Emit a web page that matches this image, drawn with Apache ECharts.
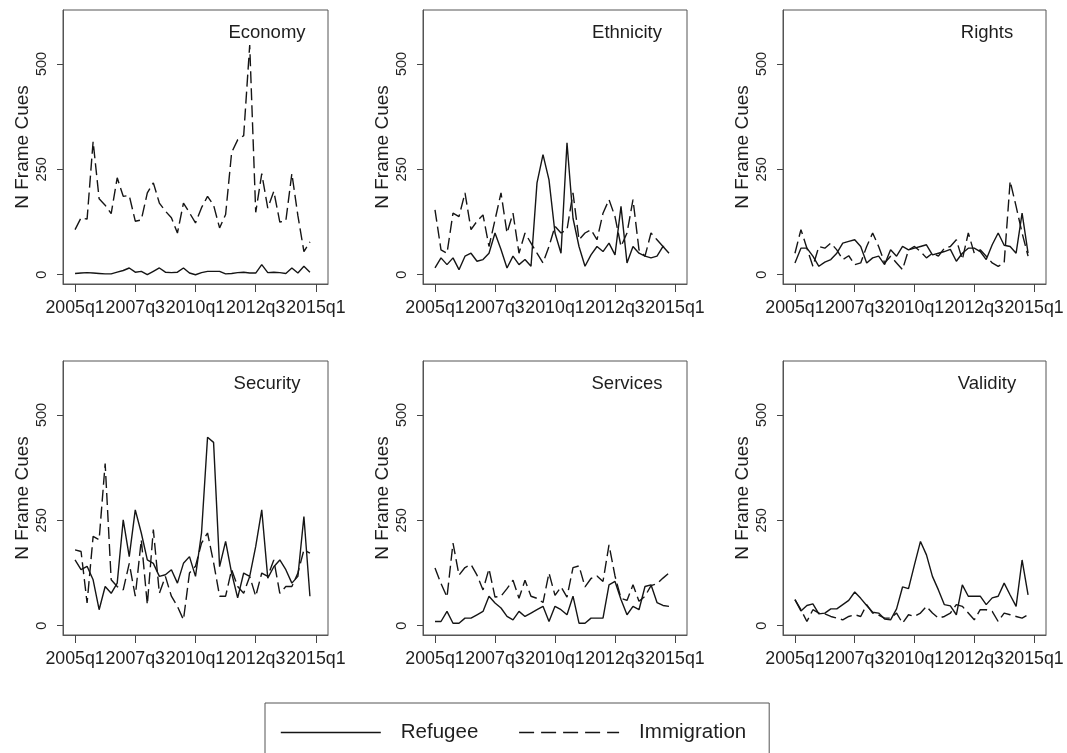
<!DOCTYPE html>
<html>
<head>
<meta charset="utf-8">
<script src="https://cdn.jsdelivr.net/npm/echarts@6/dist/echarts.min.js"></script>
<style>
  html, body { margin: 0; padding: 0; background: #fff; }
  #chart { width: 1067px; height: 753px; }
</style>
</head>
<body>
<div id="chart"></div>
<script>
// Quarterly frame-cue counts, 2005q1 .. 2014q4
const quarters = [
  '2005q1','2005q2','2005q3','2005q4','2006q1','2006q2','2006q3','2006q4',
  '2007q1','2007q2','2007q3','2007q4','2008q1','2008q2','2008q3','2008q4',
  '2009q1','2009q2','2009q3','2009q4','2010q1','2010q2','2010q3','2010q4',
  '2011q1','2011q2','2011q3','2011q4','2012q1','2012q2','2012q3','2012q4',
  '2013q1','2013q2','2013q3','2013q4','2014q1','2014q2','2014q3','2014q4'
];
const tickLabels = ['2005q1', '2007q3', '2010q1', '2012q3', '2015q1'];
const tickQuarterIndex = [0, 10, 20, 30, 40];
const yTicks = [0, 250, 500];
const frames = ['Economy', 'Ethnicity', 'Rights', 'Security', 'Services', 'Validity'];
const seriesNames = ['Refugee', 'Immigration'];

const economyRefugee = [3,4,5,4,3,2,2,6,10,16,6,8,0,8,16,6,5,6,16,4,0,5,8,8,8,2,3,5,6,4,4,24,5,6,5,3,16,4,20,6];
const economyImmigration = [107,135,132,316,180,165,145,230,186,188,127,130,194,218,170,151,135,99,170,147,123,159,186,165,111,143,290,320,330,545,148,240,158,198,125,128,240,140,55,78];

const ethnicityRefugee = [16,40,24,40,12,44,51,32,36,51,99,60,16,44,24,36,20,218,285,225,99,51,313,134,67,20,47,67,55,75,47,162,28,67,51,44,40,44,67,51];
const ethnicityImmigration = [154,59,51,146,138,194,107,127,142,67,130,194,99,146,51,99,75,51,28,67,115,99,107,194,83,99,107,83,146,178,138,67,99,178,59,44,99,83,67,67];

const rightsRefugee = [28,63,63,44,20,30,36,51,75,79,83,67,28,40,44,24,59,44,67,59,63,67,71,47,51,55,60,32,51,63,63,55,36,71,99,70,67,51,146,51];
const rightsImmigration = [51,107,63,20,67,63,75,59,36,45,24,28,67,99,67,28,44,28,12,59,67,55,40,51,44,63,67,83,36,99,51,59,44,28,20,28,222,162,99,44];

const securityRefugee = [156,133,141,109,38,93,77,101,251,164,275,220,156,148,117,121,133,101,148,164,117,220,447,435,140,200,125,66,125,117,188,275,113,140,156,133,101,117,259,70];
const securityImmigration = [180,176,54,212,204,385,109,93,85,148,70,204,50,228,77,117,70,46,14,125,141,196,220,150,70,70,133,93,77,117,70,125,117,156,77,93,93,125,180,172];

const servicesRefugee = [10,10,34,6,6,18,18,26,34,70,54,42,22,14,34,22,30,38,46,10,46,38,26,70,6,6,18,18,18,97,105,62,26,46,38,93,97,55,48,46];
const servicesImmigration = [137,100,68,196,120,138,145,120,85,135,68,70,88,108,65,108,70,65,55,125,72,92,68,138,142,92,112,118,105,192,118,65,60,97,58,70,95,100,113,125];

const validityRefugee = [62,35,48,52,28,30,40,40,50,60,80,65,48,32,30,16,14,40,92,88,145,200,168,117,85,50,47,26,97,70,70,70,50,66,70,101,73,46,156,73];
const validityImmigration = [62,38,10,38,30,28,22,18,14,22,26,22,50,30,25,18,18,30,6,26,22,30,46,30,18,22,30,50,46,30,14,38,38,34,10,30,26,22,18,26];

const refugeeByFrame = [economyRefugee, ethnicityRefugee, rightsRefugee, securityRefugee, servicesRefugee, validityRefugee];
const immigrationByFrame = [economyImmigration, ethnicityImmigration, rightsImmigration, securityImmigration, servicesImmigration, validityImmigration];

// Panel geometry (2 rows x 3 columns)
const panelLefts = [63, 423, 783];
const panelWidths = [265, 264, 263];
const panelTops = [10, 361];
const panelHeight = 274;

const ink = '#151515';
const textColor = '#1e1e1e';
const font = '"Liberation Sans", Arial, Helvetica, sans-serif';
const dashPattern = [12, 5];

const grids = [], xAxes = [], yAxes = [], series = [], graphics = [];

frames.forEach((frame, k) => {
  const col = k % 3, row = Math.floor(k / 3);
  const left = panelLefts[col], top = panelTops[row], width = panelWidths[col];
  grids.push({
    left: left, top: top, width: width, height: panelHeight,
    show: true, borderColor: '#555', borderWidth: 1, backgroundColor: '#fff'
  });
  xAxes.push({
    gridIndex: k, type: 'value', min: -2, max: 42,
    splitLine: { show: false },
    axisLine: { show: true, onZero: false, lineStyle: { color: '#555', width: 1 } },
    axisTick: { show: true, customValues: tickQuarterIndex, length: 8, lineStyle: { color: '#444' } },
    axisLabel: {
      customValues: tickQuarterIndex,
      showMinLabel: true, showMaxLabel: true, hideOverlap: false,
      formatter: v => tickLabels[tickQuarterIndex.indexOf(v)],
      fontSize: 17.8, fontFamily: font, color: textColor, margin: 15
    }
  });
  yAxes.push({
    gridIndex: k, type: 'value', min: -22, max: 628,
    splitLine: { show: false },
    axisLine: { show: true, onZero: false, lineStyle: { color: '#555', width: 1 } },
    axisTick: { show: true, customValues: yTicks, length: 6, lineStyle: { color: '#444' } },
    axisLabel: {
      customValues: yTicks, rotate: 90,
      fontSize: 14.5, fontFamily: font, color: textColor, margin: 14
    },
    name: 'N Frame Cues', nameLocation: 'middle', nameGap: 31, nameRotate: 90,
    nameTextStyle: { fontSize: 19, fontFamily: font, color: textColor }
  });
  series.push({
    name: seriesNames[0], type: 'line', xAxisIndex: k, yAxisIndex: k,
    data: refugeeByFrame[k].map((v, i) => [quarters.indexOf(quarters[i]), v]),
    showSymbol: false, symbol: 'none', silent: true,
    lineStyle: { color: ink, width: 1.4, type: 'solid' },
    itemStyle: { color: ink }
  });
  series.push({
    name: seriesNames[1], type: 'line', xAxisIndex: k, yAxisIndex: k,
    data: immigrationByFrame[k].map((v, i) => [quarters.indexOf(quarters[i]), v]),
    showSymbol: false, symbol: 'none', silent: true,
    lineStyle: { color: ink, width: 1.4, type: dashPattern },
    itemStyle: { color: ink }
  });
  graphics.push({
    type: 'text', x: left + 204, y: top + 23, z: 100,
    style: {
      text: frame, align: 'center', verticalAlign: 'middle',
      font: '18.5px ' + font, fill: textColor
    }
  });
});

const chart = echarts.init(document.getElementById('chart'), null, { renderer: 'canvas' });
chart.setOption({
  animation: false,
  backgroundColor: '#fff',
  grid: grids,
  xAxis: xAxes,
  yAxis: yAxes,
  series: series,
  graphic: graphics,
  legend: {
    left: 265, top: 703,
    orient: 'horizontal',
    padding: [19, 23, 20, 15],
    borderColor: '#555', borderWidth: 1, borderRadius: 0,
    itemWidth: 100, itemHeight: 14, itemGap: 40,
    selectedMode: false,
    itemStyle: { opacity: 0 },
    textStyle: { fontSize: 20.5, fontFamily: font, color: textColor, padding: [0, 0, 0, 15] },
    data: [
      { name: seriesNames[0], itemStyle: { opacity: 0 }, lineStyle: { color: ink, width: 1.6, type: 'solid' } },
      { name: seriesNames[1], itemStyle: { opacity: 0 }, lineStyle: { color: ink, width: 1.6, type: [15, 7] } }
    ]
  }
});
</script>
</body>
</html>
